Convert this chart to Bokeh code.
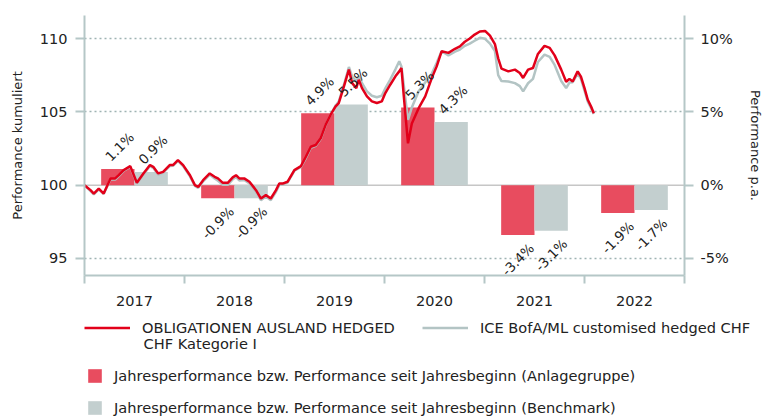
import numpy as np
import pandas as pd
from bokeh.plotting import figure
from bokeh.models import (Range1d, LinearAxis, FixedTicker, CustomJSTickFormatter,
                          PrintfTickFormatter, Span, Legend, LegendItem, Label)
from bokeh.core.properties import value
from bokeh.embed import file_html
from bokeh.resources import INLINE

# ---------------- data ----------------
dates = [
    "2017-01-01", "2017-01-23", "2017-02-04", "2017-02-22", "2017-03-12", "2017-04-06",
    "2017-04-23", "2017-05-06", "2017-05-24", "2017-06-17", "2017-07-11", "2017-08-04",
    "2017-08-28", "2017-09-09", "2017-09-27", "2017-10-15", "2017-11-08", "2017-11-20",
    "2017-12-08", "2017-12-27", "2018-01-21", "2018-02-08", "2018-02-20", "2018-03-10",
    "2018-04-03", "2018-04-21", "2018-05-03", "2018-05-21", "2018-06-08", "2018-06-26",
    "2018-07-08", "2018-07-20", "2018-08-07", "2018-08-26", "2018-09-19", "2018-10-07",
    "2018-10-25", "2018-11-12", "2018-12-01", "2018-12-13", "2018-12-25", "2019-01-12",
    "2019-02-06", "2019-03-02", "2019-03-20", "2019-04-07", "2019-04-25", "2019-05-13",
    "2019-05-31", "2019-06-18", "2019-07-06", "2019-07-18", "2019-08-06", "2019-08-24",
    "2019-09-05", "2019-09-20", "2019-09-29", "2019-10-11", "2019-10-29", "2019-11-16",
    "2019-12-04", "2019-12-22", "2020-01-04", "2020-01-22", "2020-02-10", "2020-02-24",
    "2020-03-03", "2020-03-11", "2020-03-27", "2020-04-10", "2020-05-05", "2020-05-29",
    "2020-06-22", "2020-07-10", "2020-07-28", "2020-08-22", "2020-09-15", "2020-10-03",
    "2020-10-21", "2020-11-08", "2020-11-26", "2020-12-15", "2021-01-03", "2021-01-21",
    "2021-02-08", "2021-02-20", "2021-03-04", "2021-03-29", "2021-04-22", "2021-05-10",
    "2021-05-22", "2021-06-09", "2021-06-27", "2021-07-15", "2021-08-08", "2021-08-27",
    "2021-09-14", "2021-10-08", "2021-10-26", "2021-11-07", "2021-11-19", "2021-12-07",
    "2021-12-19", "2022-01-01", "2022-01-13", "2022-01-25", "2022-02-04",
]
fund = [
    100.00, 99.66, 99.43, 99.77, 99.43, 100.46, 100.46, 100.68, 101.03, 101.30, 100.16, 100.80,
    101.37, 101.25, 100.80, 100.91, 101.37, 101.37, 101.71, 101.37, 100.68, 100.00, 99.88, 100.34,
    100.80, 100.57, 100.46, 100.16, 100.16, 100.53, 100.68, 100.46, 100.46, 100.23, 99.66, 99.09,
    99.32, 99.09, 99.66, 100.11, 100.11, 100.23, 101.03, 101.30, 101.94, 102.62, 102.74, 103.20,
    104.11, 104.79, 105.36, 105.60, 106.73, 107.88, 106.96, 106.62, 107.19, 106.62, 106.05, 105.71,
    105.60, 105.71, 106.28, 106.85, 107.42, 107.76, 107.99, 106.20, 102.85, 104.20, 105.25, 106.05,
    107.30, 108.10, 109.13, 109.02, 109.30, 109.47, 109.78, 110.00, 110.27, 110.48, 110.52, 110.20,
    109.62, 108.65, 107.95, 107.76, 107.88, 107.65, 107.31, 107.88, 107.99, 108.95, 109.50, 109.36,
    108.85, 107.88, 107.05, 107.25, 107.07, 107.76, 107.40, 106.62, 105.82, 105.36, 104.91,
]
bench = [
    100.00, 99.60, 99.38, 99.72, 99.40, 100.40, 100.38, 100.62, 100.98, 101.25, 100.12, 100.72,
    101.30, 101.18, 100.70, 100.85, 101.30, 101.32, 101.65, 101.30, 100.60, 99.95, 99.82, 100.26,
    100.72, 100.45, 100.30, 100.02, 100.02, 100.40, 100.55, 100.32, 100.36, 100.12, 99.55, 98.98,
    99.22, 98.98, 99.55, 100.02, 100.05, 100.18, 100.98, 101.25, 101.85, 102.55, 102.68, 103.15,
    104.08, 104.80, 105.40, 105.70, 106.85, 108.06, 107.40, 107.10, 107.45, 106.95, 106.40, 106.10,
    106.00, 106.10, 106.60, 107.20, 107.90, 108.45, 108.10, 106.90, 104.45, 105.30, 106.40, 107.00,
    107.60, 108.35, 109.13, 108.84, 109.10, 109.25, 109.50, 109.65, 109.85, 110.05, 109.98, 109.65,
    109.15, 107.50, 107.10, 107.07, 106.96, 106.75, 106.39, 106.95, 107.25, 108.40, 108.90, 108.75,
    108.20, 107.10, 106.62, 107.00, 107.02, 107.60, 107.25, 106.45, 105.70, 105.25, 104.85,
]
years = [2017, 2018, 2019, 2020, 2021, 2022]
fund_pa = [1.1, -0.9, 4.9, 5.3, -3.4, -1.9]
bench_pa = [0.9, -0.9, 5.5, 4.3, -3.1, -1.7]

left_ticks = [95, 100, 105, 110]
right_ticks = [-5, 0, 5, 10]

name_fund = "OBLIGATIONEN AUSLAND HEDGED"
name_fund2 = "CHF Kategorie I"
name_bench = "ICE BofA/ML customised hedged CHF"
name_bar_fund = "Jahresperformance bzw. Performance seit Jahresbeginn (Anlagegruppe)"
name_bar_bench = "Jahresperformance bzw. Performance seit Jahresbeginn (Benchmark)"

# ---------------- styling ----------------
FONT = "DejaVu Sans"
RED_LINE = "#e2001a"
GRAY_LINE = "#b3c4c4"
RED_BAR = "#e84c5f"
GRAY_BAR = "#c3cfcf"
AXIS = "#b5c7c7"
TXT = "#222222"
LEG_FS = "14.6px"

d = pd.to_datetime(dates)
t = np.asarray(d.year + (d.dayofyear - 1) / np.where(d.is_leap_year, 366, 365), dtype=float)
yrs = np.array(years, dtype=float)

MAIN_H = 310
y0, y1 = 93.84, 111.57
p = figure(width=765, height=MAIN_H, output_backend="svg", toolbar_location=None,
           x_range=Range1d(years[0], years[-1] + 1), y_range=Range1d(y0, y1),
           min_border_left=84, min_border_right=78, min_border_top=15,
           min_border_bottom=MAIN_H - 275)
p.extra_y_ranges = {"pct": Range1d(y0 - 100, y1 - 100)}
p.outline_line_color = None
p.background_fill_color = "white"
p.border_fill_color = "white"

# grid
p.xgrid.visible = False
p.ygrid.ticker = FixedTicker(ticks=[v for v in left_ticks if v != 100])
p.ygrid.grid_line_color = "#9fb3b3"
p.ygrid.grid_line_dash = "2 3"
p.ygrid.grid_line_width = 1.5
p.add_layout(Span(location=0, dimension="width", y_range_name="pct",
                  line_color="#c6c6c6", line_width=1.5, level="underlay"))

# bars
p.vbar(x=yrs + 1 / 3, width=1 / 3, bottom=0, top=fund_pa, y_range_name="pct",
       fill_color=RED_BAR, line_color=None)
p.vbar(x=yrs + 2 / 3, width=1 / 3, bottom=0, top=bench_pa, y_range_name="pct",
       fill_color=GRAY_BAR, line_color=None)

# lines
p.line(t, bench, line_color=GRAY_LINE, line_width=2.5)
p.line(t, fund, line_color=RED_LINE, line_width=2.5)

# bar labels
bx = list(yrs + 1 / 3) + list(yrs + 2 / 3)
bv = list(fund_pa) + list(bench_pa)
pos = [(x, v) for x, v in zip(bx, bv) if v >= 0]
neg = [(x, v) for x, v in zip(bx, bv) if v < 0]
common = dict(y_range_name="pct", angle=np.pi / 4, text_baseline="middle",
              text_font=value(FONT), text_font_size="13.4px", text_color=TXT)
p.text(x=[a for a, _ in pos], y=[b for _, b in pos], text=[f"{b:.1f}%" for _, b in pos],
       text_align="left", x_offset=-10, y_offset=-10, **common)
p.text(x=[a for a, _ in neg], y=[b for _, b in neg], text=[f"{b:.1f}%" for _, b in neg],
       text_align="right", x_offset=14, y_offset=11, **common)

# axes
def style_axis(ax):
    ax.axis_line_color = AXIS
    ax.axis_line_width = 2
    ax.major_tick_line_color = AXIS
    ax.major_tick_line_width = 2
    ax.major_tick_in = 0
    ax.major_tick_out = 9
    ax.minor_tick_in = 0
    ax.minor_tick_out = 0
    ax.major_label_text_font = FONT
    ax.major_label_text_font_size = "14.5px"
    ax.major_label_text_color = TXT
    ax.axis_label_text_font = FONT
    ax.axis_label_text_font_size = "13px"
    ax.axis_label_text_font_style = "normal"
    ax.axis_label_text_color = TXT

yl = p.yaxis[0]
style_axis(yl)
yl.ticker = FixedTicker(ticks=left_ticks)
yl.major_label_standoff = 8
yl.axis_label = "Performance kumuliert"
yl.axis_label_standoff = 12

yr = LinearAxis(y_range_name="pct")
style_axis(yr)
yr.ticker = FixedTicker(ticks=right_ticks)
yr.formatter = PrintfTickFormatter(format="%d%%")
yr.major_label_standoff = 7
yr.axis_label = "Performance p.a."
yr.axis_label_standoff = 12
p.add_layout(yr, "right")

xb = p.xaxis[0]
style_axis(xb)
xb.ticker = FixedTicker(ticks=[y + 0.5 for y in years], minor_ticks=years + [years[-1] + 1])
xb.formatter = CustomJSTickFormatter(code="return String(Math.floor(tick));")
xb.major_tick_out = 0
xb.minor_tick_out = 8
xb.minor_tick_line_color = AXIS
xb.minor_tick_line_width = 2
xb.major_label_standoff = 12

# ---------------- legend panel (separate root, pixel-sized ranges) ----------------
LEG_H = 416 - MAIN_H
lf = figure(width=765, height=LEG_H, output_backend="svg", toolbar_location=None,
            x_range=Range1d(0, 765), y_range=Range1d(0, LEG_H),
            min_border=0, min_border_left=0, min_border_right=0,
            min_border_top=0, min_border_bottom=0)
lf.axis.visible = False
lf.grid.visible = False
lf.outline_line_color = None
lf.background_fill_color = "white"
lf.border_fill_color = "white"

# proxies carrying the series styles (their data lie outside this panel's ranges)
r_fund = lf.line(t, fund, line_color=RED_LINE, line_width=2.5)
r_bench = lf.line(t, bench, line_color=GRAY_LINE, line_width=2.5)
r_bfund = lf.vbar(x=yrs + 1 / 3, top=fund_pa, width=1 / 3, fill_color=RED_BAR, line_color=None)
r_bbench = lf.vbar(x=yrs + 2 / 3, top=bench_pa, width=1 / 3, fill_color=GRAY_BAR, line_color=None)

def mk_legend(label, rend, loc, gw, gh, standoff):
    lg = Legend(items=[LegendItem(label=label, renderers=[rend])], location=loc,
                orientation="horizontal", glyph_width=gw, glyph_height=gh, label_height=gh,
                label_standoff=standoff, padding=0, margin=0, spacing=0,
                border_line_color=None, background_fill_alpha=0,
                label_text_font=FONT, label_text_font_size=LEG_FS, label_text_color=TXT)
    lf.add_layout(lg)

mk_legend(name_fund, r_fund, (84, 80.5), 46, 17, 12)
mk_legend(name_bench, r_bench, (422, 80.5), 46, 17, 12)
mk_legend(name_bar_fund, r_bfund, (86, 32), 17, 17, 11)
mk_legend(name_bar_bench, r_bbench, (86, 0), 17, 17, 11)
lf.add_layout(Label(x=143, y=73, x_units="screen", y_units="screen", text=name_fund2,
                    text_baseline="middle", text_font=FONT, text_font_size=LEG_FS,
                    text_color=TXT))

open("out.html", "w").write(file_html([p, lf], INLINE))
